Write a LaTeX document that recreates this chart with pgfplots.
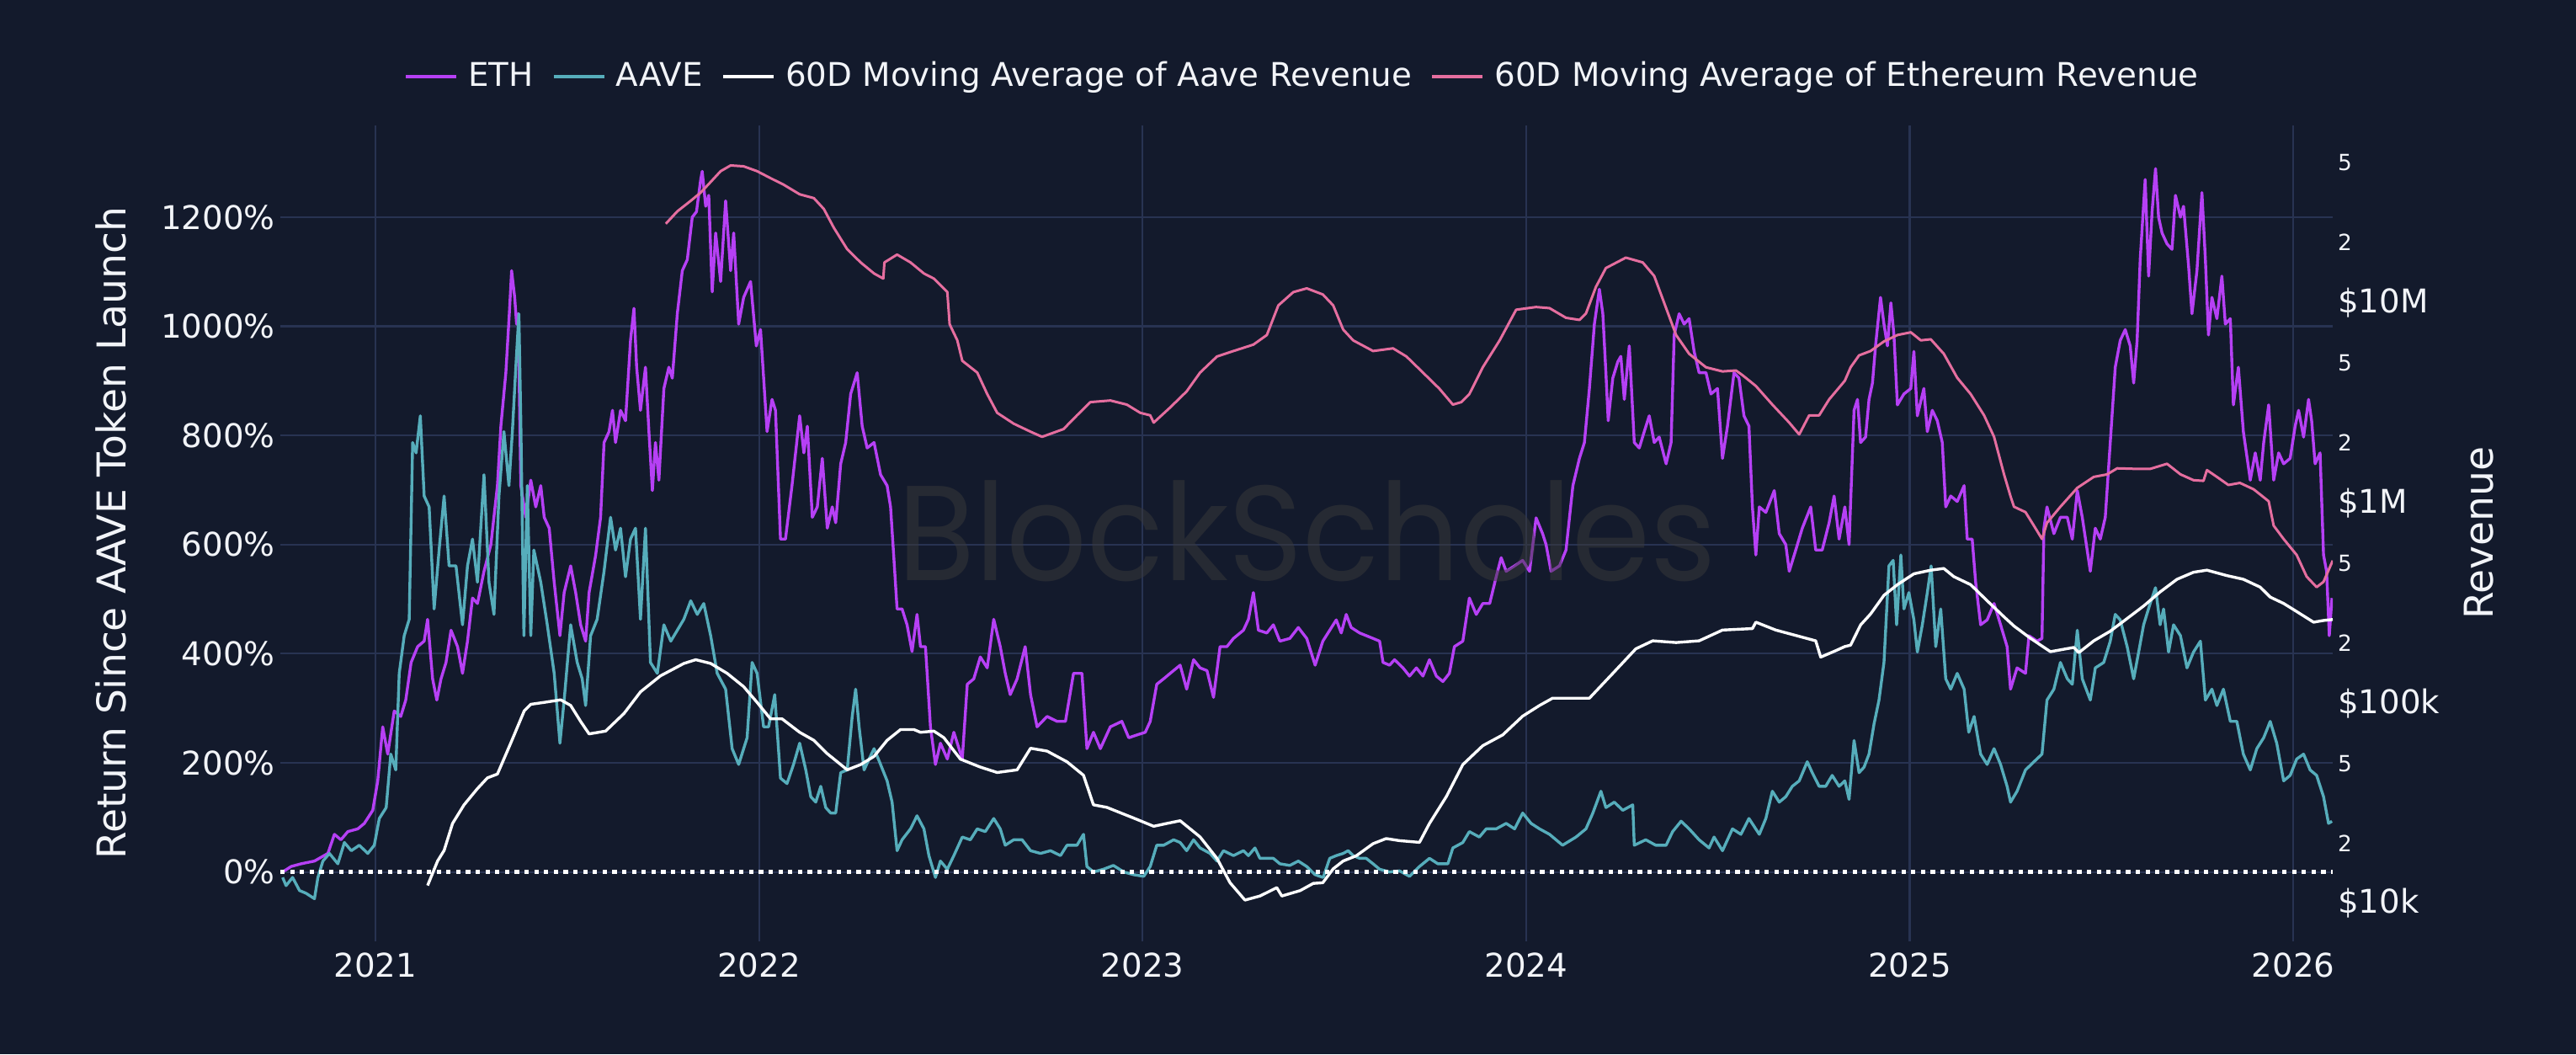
\documentclass[border=0pt]{standalone}
\usepackage{fontspec}
\setmainfont{DejaVu Sans}
\newfontfamily\wmfont{Poppins}
\usepackage{graphicx}
\usepackage{pgfplots}
\usepackage{pgfplotstable}
\pgfplotsset{compat=1.18}
\definecolor{bg}{HTML}{131A2C}
\definecolor{gridc}{HTML}{283352}
\definecolor{ethc}{HTML}{B640F5}
\definecolor{aavec}{HTML}{56ADBB}
\definecolor{pinkc}{HTML}{E56E9F}
\definecolor{txt}{HTML}{F2F4F8}
\definecolor{wmc}{HTML}{3A3A3A}
\newcommand\mn[1]{{\fontsize{6.6}{7}\selectfont #1}}

\pgfplotstableread{
x y
2020.758 0
2020.780 10
2020.806 15
2020.841 20
2020.876 34
2020.893 69
2020.910 59
2020.928 74
2020.954 79
2020.971 89
2020.993 113
2021.006 167
2021.019 266
2021.032 216
2021.049 295
2021.066 285
2021.079 315
2021.093 384
2021.110 413
2021.127 423
2021.136 463
2021.149 354
2021.160 315
2021.171 354
2021.184 384
2021.197 443
2021.214 413
2021.227 364
2021.240 423
2021.253 502
2021.266 492
2021.283 551
2021.301 600
2021.318 708
2021.327 817
2021.340 915
2021.349 1023
2021.355 1102
2021.363 1053
2021.368 1004
2021.372 1023
2021.379 708
2021.392 650
2021.405 718
2021.418 669
2021.431 708
2021.440 650
2021.453 630
2021.466 531
2021.481 433
2021.492 512
2021.509 561
2021.522 512
2021.535 453
2021.548 423
2021.557 512
2021.574 580
2021.587 650
2021.596 787
2021.609 807
2021.618 846
2021.626 787
2021.639 846
2021.652 827
2021.665 974
2021.674 1033
2021.681 925
2021.691 846
2021.704 925
2021.713 807
2021.722 699
2021.730 787
2021.739 718
2021.752 886
2021.765 925
2021.774 905
2021.787 1023
2021.800 1102
2021.813 1122
2021.826 1200
2021.837 1210
2021.848 1269
2021.852 1284
2021.861 1220
2021.869 1240
2021.878 1063
2021.887 1171
2021.900 1082
2021.913 1230
2021.926 1102
2021.934 1171
2021.947 1004
2021.960 1053
2021.978 1082
2021.993 964
2022.004 994
2022.021 807
2022.034 866
2022.043 846
2022.056 610
2022.069 610
2022.086 708
2022.106 836
2022.117 768
2022.126 817
2022.139 650
2022.152 669
2022.165 758
2022.178 630
2022.191 669
2022.200 640
2022.213 748
2022.226 787
2022.239 876
2022.256 915
2022.269 817
2022.282 777
2022.300 787
2022.317 728
2022.334 708
2022.343 669
2022.352 571
2022.360 482
2022.373 482
2022.386 453
2022.399 404
2022.412 472
2022.421 413
2022.434 413
2022.447 266
2022.460 197
2022.473 236
2022.491 207
2022.508 256
2022.530 207
2022.543 344
2022.560 354
2022.577 394
2022.595 374
2022.612 463
2022.629 413
2022.642 364
2022.655 325
2022.673 354
2022.694 413
2022.708 325
2022.725 266
2022.751 285
2022.777 276
2022.799 276
2022.820 364
2022.842 364
2022.855 226
2022.872 256
2022.890 226
2022.916 266
2022.946 276
2022.964 246
2022.985 251
2023.007 256
2023.020 276
2023.037 344
2023.055 354
2023.072 364
2023.098 379
2023.115 335
2023.133 389
2023.150 374
2023.168 369
2023.185 320
2023.202 413
2023.220 413
2023.237 428
2023.263 443
2023.276 463
2023.289 512
2023.302 443
2023.324 438
2023.341 453
2023.358 423
2023.384 428
2023.406 448
2023.428 428
2023.450 379
2023.470 423
2023.488 443
2023.505 462
2023.518 438
2023.531 472
2023.544 448
2023.566 438
2023.601 428
2023.618 423
2023.627 384
2023.644 379
2023.657 389
2023.679 374
2023.696 359
2023.714 374
2023.731 359
2023.748 389
2023.766 359
2023.783 349
2023.800 364
2023.813 413
2023.835 423
2023.852 502
2023.870 472
2023.887 492
2023.905 492
2023.922 541
2023.935 576
2023.948 551
2023.970 561
2023.991 571
2024.009 551
2024.026 649
2024.043 620
2024.052 600
2024.065 551
2024.087 561
2024.104 590
2024.122 708
2024.139 758
2024.152 787
2024.165 886
2024.178 1004
2024.191 1068
2024.200 1023
2024.208 915
2024.214 827
2024.226 905
2024.239 935
2024.247 945
2024.256 866
2024.269 964
2024.282 787
2024.295 777
2024.308 807
2024.321 836
2024.334 787
2024.347 797
2024.365 748
2024.378 787
2024.386 984
2024.399 1023
2024.412 1004
2024.425 1014
2024.438 954
2024.451 915
2024.469 915
2024.482 876
2024.499 886
2024.512 758
2024.525 817
2024.542 915
2024.555 905
2024.568 836
2024.581 817
2024.590 669
2024.599 581
2024.608 669
2024.625 659
2024.647 699
2024.660 620
2024.677 600
2024.686 551
2024.703 590
2024.720 630
2024.742 669
2024.755 590
2024.772 590
2024.790 640
2024.803 689
2024.816 610
2024.831 669
2024.842 600
2024.855 846
2024.864 866
2024.872 787
2024.885 797
2024.894 866
2024.903 896
2024.911 964
2024.924 1053
2024.933 1004
2024.942 964
2024.951 1043
2024.959 984
2024.968 856
2024.985 876
2025.003 886
2025.011 954
2025.020 836
2025.037 886
2025.046 807
2025.059 846
2025.072 827
2025.085 787
2025.094 669
2025.107 689
2025.124 679
2025.142 708
2025.150 610
2025.163 610
2025.172 531
2025.185 453
2025.202 462
2025.220 492
2025.237 453
2025.254 413
2025.263 335
2025.280 374
2025.302 364
2025.311 433
2025.332 423
2025.345 428
2025.350 630
2025.358 669
2025.376 620
2025.393 650
2025.411 650
2025.424 610
2025.437 699
2025.450 650
2025.471 551
2025.484 630
2025.497 610
2025.510 650
2025.523 787
2025.536 925
2025.549 974
2025.562 994
2025.575 964
2025.584 896
2025.593 974
2025.601 1122
2025.614 1269
2025.623 1092
2025.632 1210
2025.641 1289
2025.649 1200
2025.658 1171
2025.671 1151
2025.684 1141
2025.693 1240
2025.706 1200
2025.714 1220
2025.727 1112
2025.736 1023
2025.749 1102
2025.762 1245
2025.771 1122
2025.779 984
2025.788 1053
2025.801 1014
2025.814 1092
2025.823 1004
2025.836 1014
2025.844 856
2025.857 925
2025.870 807
2025.888 718
2025.901 768
2025.914 718
2025.923 787
2025.936 856
2025.949 718
2025.962 768
2025.975 748
2025.992 758
2026.005 817
2026.014 846
2026.027 797
2026.040 866
2026.048 827
2026.057 748
2026.070 768
2026.079 581
2026.087 551
2026.094 433
2026.101 502
}\ethtab

\pgfplotstableread{
x y
2020.758 -10
2020.767 -25
2020.784 -10
2020.802 -34
2020.819 -39
2020.841 -49
2020.850 -10
2020.863 20
2020.880 34
2020.902 15
2020.919 54
2020.937 39
2020.958 49
2020.980 34
2020.997 49
2021.010 98
2021.028 118
2021.040 216
2021.053 187
2021.062 364
2021.075 433
2021.088 463
2021.097 787
2021.106 768
2021.117 836
2021.127 689
2021.140 669
2021.153 482
2021.166 590
2021.179 689
2021.192 561
2021.210 561
2021.227 453
2021.240 561
2021.253 610
2021.266 531
2021.283 728
2021.296 531
2021.309 472
2021.322 689
2021.335 807
2021.348 708
2021.357 807
2021.366 925
2021.374 1023
2021.379 827
2021.387 433
2021.396 708
2021.405 433
2021.413 590
2021.431 531
2021.448 453
2021.466 364
2021.481 236
2021.492 315
2021.509 453
2021.526 384
2021.539 354
2021.548 305
2021.561 433
2021.578 463
2021.596 551
2021.613 650
2021.626 590
2021.639 630
2021.652 541
2021.665 610
2021.678 630
2021.691 463
2021.704 630
2021.717 384
2021.735 364
2021.752 453
2021.770 423
2021.787 443
2021.804 463
2021.822 497
2021.839 472
2021.856 492
2021.874 433
2021.891 364
2021.913 335
2021.930 226
2021.947 197
2021.969 246
2021.982 384
2021.995 364
2022.012 266
2022.025 266
2022.041 325
2022.056 172
2022.073 162
2022.090 197
2022.106 236
2022.122 187
2022.135 138
2022.148 128
2022.161 157
2022.174 118
2022.187 108
2022.200 108
2022.213 182
2022.230 187
2022.243 285
2022.252 335
2022.261 266
2022.274 187
2022.287 207
2022.300 226
2022.317 197
2022.334 167
2022.347 128
2022.360 39
2022.373 59
2022.395 79
2022.412 103
2022.430 79
2022.443 30
2022.460 -10
2022.473 20
2022.491 5
2022.508 30
2022.530 64
2022.551 59
2022.569 79
2022.590 74
2022.612 98
2022.629 79
2022.642 49
2022.664 59
2022.686 59
2022.708 39
2022.734 34
2022.760 39
2022.786 30
2022.803 49
2022.829 49
2022.846 69
2022.855 10
2022.872 0
2022.898 5
2022.924 12
2022.951 0
2022.977 -5
2023.003 -8
2023.020 10
2023.037 49
2023.055 49
2023.081 59
2023.098 54
2023.115 39
2023.133 59
2023.150 44
2023.176 34
2023.194 20
2023.211 39
2023.237 30
2023.263 39
2023.276 30
2023.293 44
2023.306 25
2023.341 25
2023.358 15
2023.384 12
2023.406 20
2023.428 10
2023.450 -5
2023.471 -10
2023.488 25
2023.505 30
2023.523 34
2023.536 39
2023.549 30
2023.566 25
2023.583 25
2023.601 15
2023.618 5
2023.644 0
2023.670 2
2023.696 -8
2023.722 10
2023.748 25
2023.770 15
2023.796 15
2023.809 44
2023.835 54
2023.852 74
2023.878 64
2023.896 79
2023.922 79
2023.948 89
2023.970 79
2023.991 108
2024.013 89
2024.035 79
2024.061 69
2024.095 49
2024.130 64
2024.156 79
2024.174 108
2024.195 148
2024.208 118
2024.230 128
2024.252 113
2024.278 123
2024.282 49
2024.312 59
2024.338 49
2024.365 49
2024.382 74
2024.404 93
2024.425 79
2024.451 59
2024.477 44
2024.490 64
2024.512 39
2024.538 79
2024.560 69
2024.581 98
2024.608 69
2024.625 98
2024.642 148
2024.660 128
2024.677 138
2024.694 157
2024.712 167
2024.733 202
2024.746 182
2024.764 157
2024.781 157
2024.798 177
2024.816 157
2024.831 167
2024.842 133
2024.855 241
2024.868 182
2024.881 192
2024.894 216
2024.907 271
2024.920 315
2024.933 384
2024.946 561
2024.957 571
2024.966 453
2024.977 581
2024.985 482
2024.998 512
2025.011 462
2025.020 403
2025.033 453
2025.046 512
2025.056 561
2025.068 413
2025.081 482
2025.094 354
2025.107 335
2025.124 364
2025.142 335
2025.154 256
2025.168 285
2025.185 216
2025.202 197
2025.220 226
2025.237 197
2025.254 157
2025.263 128
2025.280 148
2025.302 187
2025.324 202
2025.345 216
2025.358 315
2025.376 335
2025.393 384
2025.411 354
2025.424 344
2025.437 443
2025.450 354
2025.471 315
2025.484 374
2025.506 384
2025.523 423
2025.536 472
2025.549 462
2025.567 413
2025.584 354
2025.597 403
2025.610 453
2025.627 492
2025.641 521
2025.653 453
2025.662 482
2025.675 403
2025.688 453
2025.706 433
2025.723 374
2025.740 403
2025.758 423
2025.771 315
2025.788 335
2025.801 305
2025.818 335
2025.836 276
2025.853 276
2025.870 216
2025.888 187
2025.905 226
2025.923 246
2025.940 276
2025.957 236
2025.975 167
2025.992 177
2026.009 207
2026.027 216
2026.044 187
2026.061 177
2026.079 138
2026.092 89
2026.101 93
}\aavetab

\pgfplotstableread{
x y
2021.136 12.3e3
2021.162 16.3e3
2021.179 18.4e3
2021.201 25.1e3
2021.231 31.1e3
2021.266 37.5e3
2021.292 42.4e3
2021.318 44.3e3
2021.353 63.4e3
2021.388 91.7e3
2021.405 98.8e3
2021.440 101e3
2021.483 104e3
2021.509 97.5e3
2021.535 81.1e3
2021.557 70.3e3
2021.600 72.6e3
2021.648 88.9e3
2021.691 114e3
2021.743 137e3
2021.804 158e3
2021.835 165e3
2021.874 158e3
2021.917 141e3
2021.960 121e3
2021.995 101e3
2022.030 83.6e3
2022.060 83.6e3
2022.106 71.6e3
2022.143 65.3e3
2022.178 56.0e3
2022.230 46.5e3
2022.265 49.4e3
2022.300 54.3e3
2022.334 65.3e3
2022.369 73.9e3
2022.404 73.9e3
2022.421 71.6e3
2022.456 72.6e3
2022.482 67.3e3
2022.525 52.6e3
2022.577 48.0e3
2022.621 45.1e3
2022.673 46.5e3
2022.708 59.6e3
2022.751 57.7e3
2022.803 51.0e3
2022.846 43.7e3
2022.872 31.1e3
2022.907 30.2e3
2022.977 26.7e3
2023.029 24.3e3
2023.063 25.1e3
2023.098 25.9e3
2023.150 21.5e3
2023.194 16.8e3
2023.228 12.7e3
2023.267 10.4e3
2023.306 10.9e3
2023.350 12.0e3
2023.363 10.9e3
2023.411 11.6e3
2023.445 12.6e3
2023.470 12.7e3
2023.497 14.9e3
2023.523 16.3e3
2023.557 17.3e3
2023.601 19.9e3
2023.635 21.1e3
2023.670 20.6e3
2023.722 20.2e3
2023.748 25.1e3
2023.792 34.2e3
2023.835 49.4e3
2023.887 61.4e3
2023.939 69.5e3
2023.991 86.2e3
2024.035 97.5e3
2024.069 106e3
2024.165 106e3
2024.226 141e3
2024.286 187e3
2024.330 205e3
2024.391 201e3
2024.451 205e3
2024.512 232e3
2024.590 236e3
2024.599 254e3
2024.651 232e3
2024.755 205e3
2024.768 170e3
2024.807 183e3
2024.831 192e3
2024.846 195e3
2024.872 246e3
2024.898 279e3
2024.933 346e3
2024.968 391e3
2025.011 443e3
2025.055 462e3
2025.089 471e3
2025.115 429e3
2025.159 391e3
2025.202 325e3
2025.246 270e3
2025.272 243e3
2025.315 211e3
2025.367 181e3
2025.428 190e3
2025.441 179e3
2025.480 205e3
2025.523 229e3
2025.567 265e3
2025.610 306e3
2025.654 361e3
2025.697 416e3
2025.740 451e3
2025.775 462e3
2025.827 434e3
2025.870 416e3
2025.914 380e3
2025.940 339e3
2025.975 315e3
2026.009 287e3
2026.053 254e3
2026.079 259e3
2026.103 262e3
}\aaverevtab

\pgfplotstableread{
x y
2021.757 24.8e6
2021.787 28.6e6
2021.822 32.3e6
2021.848 35.5e6
2021.874 40.1e6
2021.900 45.4e6
2021.926 48.5e6
2021.960 48.0e6
2021.995 45.4e6
2022.030 41.9e6
2022.064 38.9e6
2022.106 34.8e6
2022.143 33.3e6
2022.169 29.4e6
2022.195 23.7e6
2022.230 18.5e6
2022.265 15.9e6
2022.300 14.0e6
2022.324 13.2e6
2022.327 15.9e6
2022.360 17.4e6
2022.395 15.9e6
2022.430 14.0e6
2022.456 13.2e6
2022.491 11.3e6
2022.497 7.81e6
2022.517 6.49e6
2022.530 5.13e6
2022.569 4.48e6
2022.595 3.50e6
2022.621 2.82e6
2022.664 2.49e6
2022.708 2.27e6
2022.738 2.14e6
2022.794 2.34e6
2022.829 2.74e6
2022.864 3.19e6
2022.916 3.25e6
2022.959 3.10e6
2022.994 2.82e6
2023.020 2.74e6
2023.029 2.52e6
2023.072 3.00e6
2023.115 3.61e6
2023.150 4.48e6
2023.194 5.39e6
2023.237 5.74e6
2023.289 6.18e6
2023.324 6.90e6
2023.354 9.70e6
2023.393 11.3e6
2023.428 11.8e6
2023.470 11.0e6
2023.497 9.70e6
2023.523 7.35e6
2023.549 6.49e6
2023.601 5.74e6
2023.653 5.92e6
2023.688 5.39e6
2023.731 4.48e6
2023.774 3.72e6
2023.809 3.10e6
2023.831 3.19e6
2023.852 3.50e6
2023.887 4.76e6
2023.931 6.49e6
2023.974 9.23e6
2024.026 9.52e6
2024.061 9.40e6
2024.104 8.41e6
2024.139 8.21e6
2024.156 8.84e6
2024.182 12.0e6
2024.208 14.9e6
2024.260 16.8e6
2024.304 15.9e6
2024.334 13.6e6
2024.365 9.40e6
2024.391 6.90e6
2024.425 5.56e6
2024.469 4.76e6
2024.512 4.54e6
2024.547 4.59e6
2024.564 4.35e6
2024.599 3.84e6
2024.642 3.10e6
2024.686 2.52e6
2024.712 2.20e6
2024.738 2.74e6
2024.764 2.74e6
2024.790 3.29e6
2024.831 4.08e6
2024.846 4.76e6
2024.868 5.46e6
2024.898 5.74e6
2024.933 6.41e6
2024.968 6.90e6
2025.003 7.12e6
2025.029 6.49e6
2025.055 6.57e6
2025.089 5.56e6
2025.124 4.22e6
2025.159 3.50e6
2025.194 2.74e6
2025.220 2.14e6
2025.246 1.39e6
2025.263 1.08e6
2025.272 958e3
2025.302 900e3
2025.328 748e3
2025.345 661e3
2025.358 796e3
2025.393 958e3
2025.437 1.19e6
2025.480 1.35e6
2025.515 1.39e6
2025.541 1.49e6
2025.593 1.48e6
2025.627 1.48e6
2025.671 1.57e6
2025.706 1.39e6
2025.740 1.30e6
2025.766 1.29e6
2025.775 1.46e6
2025.801 1.35e6
2025.831 1.23e6
2025.861 1.26e6
2025.897 1.17e6
2025.936 1.02e6
2025.949 771e3
2025.975 661e3
2026.009 550e3
2026.035 429e3
2026.061 380e3
2026.079 404e3
2026.103 516e3
}\ethrevtab

\begin{document}
\begin{tikzpicture}
\fill[bg] (-83.25pt,-33.55pt) rectangle (681.75pt,279.45pt);
\begin{axis}[
  at={(0,0)}, anchor=south west, scale only axis,
  width=609.5pt, height=242.3pt,
  xmin=2020.752, xmax=2026.103,
  ymin=-126.8, ymax=1368.7,
  axis line style={draw=none},
  major tick length=0pt,
  xtick={2021,2022,2023,2024,2025,2026},
  xticklabels={2021,2022,2023,2024,2025,2026},
  ytick={0,200,400,600,800,1000,1200},
  yticklabels={0\%,200\%,400\%,600\%,800\%,1000\%,1200\%},
  grid=major, grid style={gridc, line width=0.55pt},
  ticklabel style={font=\fontsize{9.7}{11}\selectfont, text=txt},
  yticklabel style={xshift=2pt},
  ylabel={Return Since AAVE Token Launch},
  every axis y label/.style={at={(axis description cs:-0.0825,0.5)}, rotate=90, anchor=center, font=\fontsize{11.8}{14}\selectfont, text=txt},
  line join=round,
]
\addplot[ethc, line width=0.85pt] table[x=x,y=y] {\ethtab};
\addplot[aavec, line width=0.85pt] table[x=x,y=y] {\aavetab};
\addplot[white, line width=1.1pt, dash pattern=on 1.3pt off 1.6pt] coordinates {(2020.752,0) (2026.103,0)};
\end{axis}
\begin{axis}[
  at={(0,0)}, anchor=south west, scale only axis,
  width=609.5pt, height=242.3pt,
  xmin=2020.752, xmax=2026.103,
  ymode=log, ymin=6486, ymax=7.71e7,
  axis x line=none,
  axis y line*=right,
  axis line style={draw=none},
  major tick length=0pt, minor tick length=0pt,
  ytick={1e4,2e4,5e4,1e5,2e5,5e5,1e6,2e6,5e6,1e7,2e7,5e7},
  yticklabels={\$10k,\mn{2},\mn{5},\$100k,\mn{2},\mn{5},\$1M,\mn{2},\mn{5},\$10M,\mn{2},\mn{5}},
  ticklabel style={font=\fontsize{9.7}{11}\selectfont, text=txt},
  yticklabel style={xshift=-2pt},
  ylabel={Revenue},
  every axis y label/.style={at={(axis description cs:1.0714,0.5)}, rotate=90, anchor=center, font=\fontsize{11.8}{14}\selectfont, text=txt},
  legend columns=4,
  legend style={at={(0.5,1.0594)}, anchor=center, draw=none, fill=none, text=txt,
    font=\fontsize{9.7}{11}\selectfont,
    /tikz/every even column/.append style={column sep=2.6pt},
    nodes={inner xsep=3pt, inner ysep=1pt}},
  legend image code/.code={\draw[#1, line width=1pt] (0pt,0pt) -- (15pt,0pt);},
  line join=round,
]
\addlegendimage{ethc, line width=1pt}
\addlegendentry{ETH}
\addlegendimage{aavec, line width=1pt}
\addlegendentry{AAVE}
\addplot[white, line width=0.85pt] table[x=x,y=y] {\aaverevtab};
\addlegendentry{60D Moving Average of Aave Revenue}
\addplot[pinkc, line width=0.75pt] table[x=x,y=y] {\ethrevtab};
\addlegendentry{60D Moving Average of Ethereum Revenue}
\end{axis}
\node[anchor=south west, inner sep=0pt, text=wmc, opacity=0.5] at (183.25pt,106.5pt) {\resizebox{243pt}{29.7pt}{\wmfont BlockScholes}};
\pgfresetboundingbox
\path[use as bounding box] (-83.25pt,-33.55pt) rectangle (681.75pt,279.45pt);
\end{tikzpicture}
\end{document}
